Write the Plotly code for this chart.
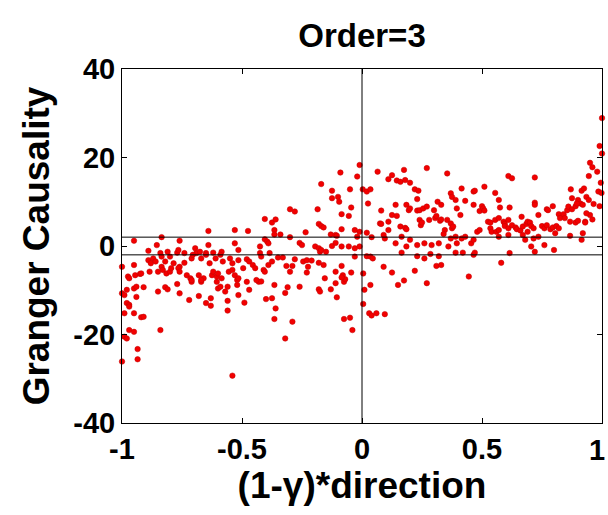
import plotly.graph_objects as go

# ---- data (x = (1-gamma)*direction, y = Granger causality) ----
far_left_low = [
    (-1.0, -10.7), (-0.99, -11.1), (-0.98, -9.9), (-0.95, -9.6), (-0.94, -9.2), (-0.91, -9.3),
    (-0.98, -12.9), (-0.97, -13.3), (-0.97, -13.7), (-0.94, -11.5), (-0.99, -15.2), (-0.95, -15.2),
    (-0.92, -16.1), (-0.91, -16.0), (-0.97, -19.0), (-0.95, -19.4), (-0.99, -20.5), (-0.98, -20.9),
    (-0.935, -23.3), (-0.935, -25.6), (-1.0, -26.1), (-0.84, -19.0), (-0.85, -10.3), (-0.82, -9.3),
    (-0.81, -9.8), (-0.77, -8.6), (-0.76, -10.7), (-0.72, -12.2), (-0.71, -8.1), (-0.67, -8.1),
    (-0.68, -11.3), (-0.65, -12.9), (-0.63, -13.5), (-0.63, -11.8), (-0.605, -8.1), (-0.6, -9.6),
    (-0.59, -9.2), (-0.57, -10.3), (-0.56, -9.2), (-0.56, -12.4), (-0.56, -14.6), (-0.54, -29.3),
    (-0.52, -8.8), (-0.515, -11.1), (-0.49, -12.8), (-0.48, -8.1), (-0.47, -9.9), (-0.43, -8.1),
    (-0.42, -8.0), (-0.40, -12.0), (-0.375, -11.8), (-0.365, -8.8), (-0.36, -14.1), (-0.365, -16.5),
    (-0.32, -10.6), (-0.31, -9.3), (-0.32, -20.9), (-0.29, -17.1), (-0.26, -9.2), (-0.18, -9.8),
    (-0.175, -10.3), (-0.13, -9.8), (-0.105, -11.6), (-0.075, -8.1), (-0.075, -16.5), (-0.05, -16.2),
    (-0.04, -19.0), (0.005, -13.1),
]

left_band = [
    (-0.64, 3.4), (-0.53, 3.6), (-0.95, 1.2), (-0.835, 2.0), (-0.76, 1.2), (-0.855, 0.2),
    (-0.64, 0.2), (-0.53, 0.6), (-0.89, -1.1), (-0.84, -1.6), (-0.81, -1.3), (-0.77, -1.5),
    (-0.765, -0.9), (-0.695, -0.5), (-0.69, -1.6), (-0.74, -1.6), (-0.675, -1.3), (-0.65, -1.6),
    (-0.62, -1.5), (-0.585, -1.3), (-1.0, -4.7), (-0.89, -3.2), (-0.88, -3.9), (-0.87, -2.8),
    (-0.86, -3.5), (-0.835, -2.4), (-0.82, -3.5), (-0.8, -2.4), (-0.95, -4.3), (-0.785, -3.9),
    (-0.76, -4.7), (-0.74, -3.8), (-0.71, -2.8), (-0.705, -2.0), (-0.67, -2.8), (-0.65, -2.0),
    (-0.635, -3.9), (-0.61, -2.8), (-0.59, -2.0), (-0.58, -3.5), (-0.55, -2.8), (-0.54, -3.9),
    (-0.975, -6.9), (-0.97, -7.3), (-0.945, -6.6), (-0.925, -6.3), (-0.92, -6.2), (-0.885, -5.8),
    (-0.85, -5.8), (-0.835, -4.7), (-0.83, -5.4), (-0.815, -6.2), (-0.8, -5.8), (-0.795, -5.0),
    (-0.765, -5.0), (-0.76, -5.8), (-0.73, -6.6), (-0.715, -7.3), (-0.71, -7.7), (-0.68, -6.6),
    (-0.66, -7.3), (-0.67, -7.7), (-0.625, -6.6), (-0.62, -5.8), (-0.605, -6.9), (-0.6, -6.2),
    (-0.585, -7.3), (-0.555, -5.8), (-0.54, -5.4), (-0.53, -6.6), (-0.52, -7.7),
]

mid_left = [
    (-0.09, 16.6), (-0.01, 18.3), (-0.17, 14.0), (-0.125, 12.5), (-0.125, 10.8), (-0.1, 11.1),
    (-0.095, 10.0), (-0.05, 12.8), (-0.02, 15.7), (-0.3, 8.3), (-0.28, 7.8), (-0.185, 8.3),
    (-0.045, 8.7), (-0.085, 7.2), (-0.055, 6.8), (-0.405, 6.1), (-0.375, 5.3), (-0.36, 6.0),
    (-0.18, 5.0), (-0.17, 4.5), (-0.16, 4.2), (-0.085, 3.8), (-0.475, 3.4), (-0.365, 3.6),
    (-0.365, 2.6), (-0.34, 2.6), (-0.235, 3.1), (-0.13, 2.6), (-0.11, 2.5), (-0.105, 2.3),
    (-0.405, 1.5), (-0.395, 1.0), (-0.39, 0.6), (-0.425, -0.1), (-0.3, 2.0), (-0.26, 0.7),
    (-0.25, 0.2), (-0.195, -0.1), (-0.18, -0.5), (-0.175, -1.3), (-0.17, -0.9), (-0.15, -1.3),
    (-0.125, 0.0), (-0.11, 0.7), (-0.085, -0.1), (-0.055, -0.1), (-0.03, -0.5), (-0.515, -0.9),
    (-0.48, -3.0), (-0.47, -3.5), (-0.455, -4.3), (-0.445, -5.0), (-0.385, -1.6), (-0.425, -1.6),
    (-0.42, -2.4), (-0.375, -3.5), (-0.39, -4.3), (-0.35, -2.6), (-0.33, -2.6), (-0.41, -5.4),
    (-0.405, -5.8), (-0.495, -5.0), (-0.515, -3.2), (-0.315, -4.5), (-0.29, -4.5), (-0.3, -5.8),
    (-0.28, -3.0), (-0.245, -3.5), (-0.23, -3.2), (-0.21, -3.3), (-0.18, -3.8), (-0.225, -4.7),
    (-0.23, -6.0), (-0.16, -4.3), (-0.11, -5.8), (-0.085, -4.5), (-0.08, -6.6), (-0.07, -7.5),
    (-0.085, -7.1), (-0.045, -6.0), (-0.515, -7.3), (-0.44, -7.7), (-0.155, -7.3), (-0.11, -8.4),
]

mid_right = [
    (0.065, 16.8), (0.175, 17.2), (0.27, 17.6), (0.355, 16.4), (0.11, 15.1), (0.125, 16.0),
    (0.145, 14.8), (0.16, 14.5), (0.18, 14.9), (0.2, 14.3), (0.003, 12.8), (0.02, 12.3),
    (0.035, 12.8), (0.025, 9.6), (0.22, 12.8), (0.235, 12.5), (0.23, 10.6), (0.14, 9.3),
    (0.08, 8.0), (0.185, 9.3), (0.195, 8.1), (0.2, 8.5), (0.23, 8.0), (0.24, 8.1),
    (0.255, 8.5), (0.27, 8.9), (0.125, 7.0), (0.145, 6.8), (0.075, 5.1), (0.08, 5.0),
    (0.11, 5.5), (0.11, 3.6), (0.16, 4.4), (0.18, 4.1), (0.185, 3.8), (0.24, 5.9),
    (0.245, 4.7), (0.25, 5.3), (0.305, 6.3), (0.31, 6.8), (0.325, 5.7), (0.33, 6.0),
    (0.3, 8.1), (0.315, 10.0), (0.33, 9.3), (0.28, 5.9), (0.355, 5.9), (0.37, 5.1),
    (0.375, 4.0), (0.38, 4.4), (0.345, 3.6), (0.37, 11.9), (0.375, 11.1), (0.39, 10.4),
    (0.395, 8.5), (0.41, 7.0), (0.415, 13.0), (0.43, 10.2), (0.465, 12.3), (0.47, 12.5),
    (0.465, 9.3), (0.49, 7.9), (-0.03, 3.6), (-0.01, 3.2), (0.02, 3.0), (0.04, 2.0),
    (-0.02, 2.1), (-0.01, -0.1), (0.09, 2.5), (0.095, 1.7), (0.14, 0.6), (0.165, 2.1),
    (0.185, -0.1), (0.2, 1.4), (0.23, 0.2), (0.26, 0.6), (0.29, 0.2), (0.32, 0.6),
    (0.34, 2.7), (0.37, 1.7), (0.39, 2.1), (0.395, 0.6), (0.415, 1.7), (0.43, 2.1),
    (0.455, 0.6), (0.465, 1.4), (0.36, -0.1), (0.39, -1.5), (0.42, -1.5), (0.465, -2.0),
    (0.47, -1.5), (-0.03, -2.4), (0.02, -2.3), (0.035, -2.4), (0.045, -2.8), (0.165, -1.5),
    (0.23, -2.3), (0.26, -2.8), (0.285, -1.8), (0.32, -2.3), (0.09, -4.7), (0.125, -6.0),
    (0.22, -5.6), (0.31, -4.5), (0.33, -4.3), (0.445, -6.9), (0.005, -6.2), (0.01, -9.9),
    (0.035, -8.8), (0.15, -8.8), (0.175, -7.8), (0.27, -8.4), (0.03, -15.2), (0.04, -15.7),
    (0.06, -15.2), (0.095, -15.4),
]

far_right = [
    (1.0, 28.9), (0.99, 22.6), (1.0, 20.9), (0.95, 18.8), (0.96, 17.8), (0.98, 16.8),
    (0.945, 15.8), (0.995, 14.3), (0.985, 12.3), (0.998, 12.0), (0.61, 15.8), (0.625, 15.3),
    (0.72, 15.5), (0.51, 13.4), (0.555, 12.0), (0.57, 10.4), (0.575, 8.7), (0.87, 12.8),
    (0.915, 12.5), (0.925, 13.0), (0.875, 10.8), (0.9, 10.4), (0.91, 9.6), (0.92, 9.3),
    (0.935, 11.1), (0.945, 10.4), (0.72, 9.8), (0.72, 9.3), (0.615, 8.7), (0.5, 9.0),
    (0.505, 8.5), (0.51, 8.0), (0.77, 8.3), (0.775, 8.1), (0.795, 9.0), (0.82, 7.2),
    (0.84, 7.2), (0.855, 8.1), (0.86, 8.9), (0.875, 8.3), (0.89, 9.0), (0.895, 9.6),
    (0.95, 7.0), (0.96, 6.0), (0.935, 7.4), (0.93, 5.5), (0.99, 9.0), (0.965, 9.5),
    (0.735, 7.0), (0.665, 6.6), (0.525, 5.5), (0.535, 5.3), (0.555, 5.9), (0.57, 6.3),
    (0.59, 5.5), (0.595, 5.0), (0.61, 5.9), (0.48, 3.2), (0.49, 3.6), (0.535, 4.0),
    (0.54, 3.2), (0.56, 3.2), (0.57, 3.6), (0.595, 4.5), (0.61, 4.0), (0.625, 4.7),
    (0.64, 4.2), (0.645, 3.8), (0.66, 3.5), (0.67, 4.4), (0.685, 5.0), (0.69, 5.5),
    (0.7, 5.3), (0.705, 4.5), (0.715, 4.0), (0.69, 3.2), (0.75, 4.5), (0.76, 4.0),
    (0.77, 4.7), (0.785, 3.8), (0.795, 4.2), (0.81, 4.5), (0.82, 4.0), (0.825, 6.3),
    (0.845, 6.3), (0.867, 5.5), (0.89, 5.3), (0.9, 5.7), (0.93, 5.3), (0.805, 2.9),
    (0.92, 2.9), (0.867, 2.3), (0.915, 1.4), (0.735, 2.1), (0.67, 2.5), (0.68, 1.4),
    (0.715, 1.7), (0.72, -1.3), (0.705, -0.1), (0.76, 0.2), (0.8, -0.9), (0.57, 2.1),
    (0.61, 2.5), (0.615, -1.6), (0.58, -3.8),
]

threshold_lines = [2, -2]
x_ticks = [-1, -0.5, 0, 0.5, 1]
x_tick_text = ["-1", "-0.5", "0", "0.5", ""]   # the last label ("1") is drawn below so it stays inside the page
last_x_tick, last_x_label = 1, "1"
y_ticks = [-40, -20, 0, 20, 40]
y_tick_text = ["-40", "-20", "0", "20", "40"]

groups = [far_left_low, left_band, mid_left, mid_right, far_right]
xs = [p[0] for g in groups for p in g]
ys = [p[1] for g in groups for p in g]

FONT = "Liberation Sans"
tick_font = dict(family=FONT, size=29, color="black", weight="bold")

fig = go.Figure()
fig.add_trace(go.Scatter(
    x=xs, y=ys, mode="markers", showlegend=False, cliponaxis=False,
    marker=dict(color="#f20000", size=5.5, symbol="circle",
                line=dict(width=0.5, color="#c00000")),
))
for t in threshold_lines:
    fig.add_hline(y=t, line=dict(color="black", width=1), layer="above")
fig.add_vline(x=0, line=dict(color="black", width=1), layer="above")

fig.add_annotation(x=last_x_tick, xref="x", y=0, yref="paper",
                   text=last_x_label, showarrow=False,
                   xanchor="right", yanchor="top", xshift=5, yshift=-9,
                   font=tick_font)

fig.update_layout(
    width=608, height=515,
    margin=dict(l=122, r=6, t=69, b=92, autoexpand=False),
    paper_bgcolor="white", plot_bgcolor="white",
    title=dict(text="Order=3", x=0.5, xref="paper", xanchor="center",
               y=1 - 35 / 515, yref="container", yanchor="middle",
               font=dict(family=FONT, size=33, color="black", weight="bold")),
    xaxis=dict(range=[-1, 1], tickvals=x_ticks, ticktext=x_tick_text,
               ticks="inside", ticklen=5, tickcolor="black",
               automargin=False,
               showline=True, linecolor="black", linewidth=1, mirror="ticks",
               showgrid=False, zeroline=False,
               tickfont=tick_font,
               title=dict(text="(1-γ)*direction", standoff=5,
                          font=dict(family=FONT, size=37, color="black", weight="bold"))),
    yaxis=dict(range=[-40, 40], tickvals=y_ticks, ticktext=y_tick_text,
               ticks="inside", ticklen=5, tickcolor="black", automargin=False,
               showline=True, linecolor="black", linewidth=1, mirror="ticks",
               showgrid=False, zeroline=False,
               tickfont=tick_font,
               title=dict(text="Granger Causality", standoff=12,
                          font=dict(family=FONT, size=37, color="black", weight="bold"))),
)

fig.write_html("out.html")
